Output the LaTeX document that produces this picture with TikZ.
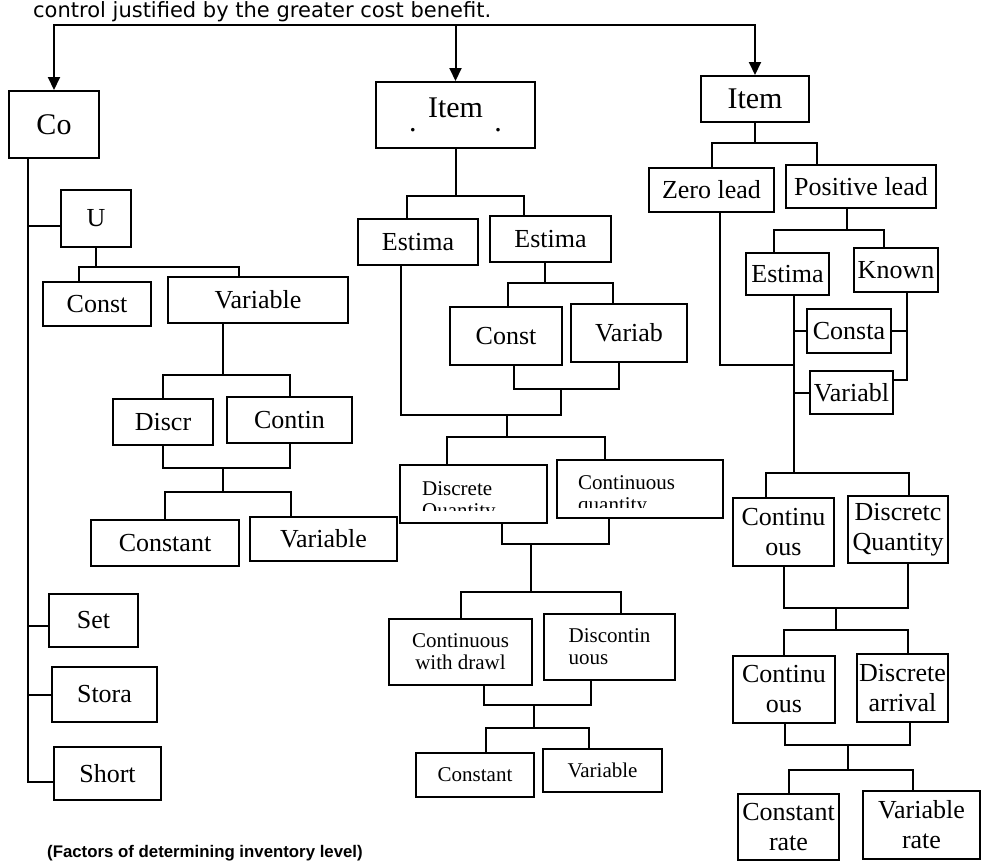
\documentclass[tikz,border=0pt]{standalone}
\usepackage{fontspec}
\setmainfont{Liberation Serif}
\newfontfamily\headfont{DejaVu Sans}
\newfontfamily\capfont{Liberation Sans}
\usetikzlibrary{arrows.meta}

\tikzset{
  box/.style={draw, line width=2pt, inner sep=0pt, align=center, font=\fontsize{26}{30}\selectfont},
  bigbox/.style={box, font=\fontsize{30}{34}\selectfont},
  smallbox/.style={box, font=\fontsize{21}{22}\selectfont},
  link/.style={line width=2pt},
  arr/.style={line width=2pt, -{Triangle[length=13pt,width=12pt]}}
}

\begin{document}
\begin{tikzpicture}[x=1pt, y=-1pt, line join=miter]
\useasboundingbox (0,0) rectangle (983,863);
\clip (0,0) rectangle (983,863);

% text above and below
\node (head)[anchor=base west, inner sep=0pt, font=\headfont\fontsize{21}{24}\selectfont] at (33,17) {control justified by the greater cost benefit.};
\node (caption)[anchor=base west, inner sep=0pt, font=\capfont\bfseries\fontsize{16.8}{19}\selectfont] at (47,857) {(Factors of determining inventory level)};

% left branch
\path (54,124.5) node(co)[bigbox, minimum width=90, minimum height=67]{Co}
  (96,218.5) node(u)[box, minimum width=70, minimum height=57]{U}
  (97,304) node(lcst)[box, minimum width=108, minimum height=44]{Const}
  (258,300) node(lvar)[box, minimum width=180, minimum height=46]{Variable}
  (163,422) node(discr)[box, minimum width=100, minimum height=46]{Discr}
  (289.5,420) node(contin)[box, minimum width=125, minimum height=46]{Contin}
  (165,543) node(lconstant)[box, minimum width=148, minimum height=46]{Constant}
  (323.5,539) node(lvariable)[box, minimum width=147, minimum height=44]{Variable}
  (93.5,620.5) node(set)[box, minimum width=89, minimum height=53]{Set}
  (104.5,694.5) node(stora)[box, minimum width=105, minimum height=55]{Stora}
  (107.5,773.5) node(short)[box, minimum width=107, minimum height=53]{Short};

% middle branch
\path (455.5,115) node(mitem)[bigbox, minimum width=159, minimum height=66]{Item\\[-20pt].\hspace{78pt}.}
  (418,242) node(mest1)[box, minimum width=120, minimum height=46]{Estima}
  (550.5,239) node(mest2)[box, minimum width=121, minimum height=46]{Estima}
  (506,336) node(mcst)[box, minimum width=112, minimum height=58]{Const}
  (629,333) node(mvar)[box, minimum width=116, minimum height=58]{Variab}
  (473.5,494) node(dq)[box, minimum width=147, minimum height=58]{}
  (640,489) node(cq)[box, minimum width=166, minimum height=58]{}
  (460.5,652) node(cwd)[smallbox, minimum width=143, minimum height=66]{Continuous\\with drawl}
  (609.5,647) node(disc)[smallbox, align=left, minimum width=131, minimum height=66]{Discontin\\uous}
  (475,775) node(mconst)[smallbox, minimum width=118, minimum height=44]{Constant}
  (602.5,770.5) node(mvarb)[smallbox, minimum width=119, minimum height=43]{Variable};

\begin{scope}
  \clip (402,467) rectangle (545,510);
  \node (dqtext)[anchor=north west, inner sep=0pt, align=left, font=\fontsize{21}{22}\selectfont] at (422,481) {Discrete\\Quantity};
\end{scope}
\begin{scope}
  \clip (559,462) rectangle (721,507);
  \node (cqtext)[anchor=north west, inner sep=0pt, align=left, font=\fontsize{21}{22}\selectfont] at (578,475) {Continuous\\quantity};
\end{scope}

% right branch
\path (755,99) node(ritem)[bigbox, minimum width=108, minimum height=46]{Item}
  (711.5,190) node(zero)[box, minimum width=125, minimum height=44]{Zero lead}
  (861,186.5) node(pos)[box, minimum width=150, minimum height=43]{Positive lead}
  (787.5,274) node(rest)[box, minimum width=83, minimum height=42]{Estima}
  (896,270) node(known)[box, minimum width=84, minimum height=44]{Known}
  (849,331) node(consta)[box, minimum width=84, minimum height=44]{Consta}
  (851.5,392.5) node(variabl)[box, minimum width=83, minimum height=43]{Variabl}
  (783.5,532) node(cont1)[box, minimum width=101, minimum height=68]{Continu\\ous}
  (898,529.5) node(disq)[box, minimum width=100, minimum height=67]{Discretc\\Quantity}
  (784,689.5) node(cont2)[box, minimum width=102, minimum height=67]{Continu\\ous}
  (902.5,688) node(disarr)[box, minimum width=91, minimum height=68]{Discrete\\arrival}
  (788.5,827) node(crate)[box, minimum width=101, minimum height=66]{Constant\\rate}
  (921.5,825) node(vrate)[box, minimum width=117, minimum height=68]{Variable\\rate};

% top arrows
\coordinate (bus) at (mitem.north |- 0,25);
\draw[arr] (bus) -| (co.north);
\draw[arr] (bus) -- (mitem.north);
\draw[arr] (bus) -| (ritem.north);

% left connectors
\draw[link] (28,0 |- co.south) |- ([yshift=-8.5pt]short.west);
\draw[link] ([yshift=-7.5pt]u.west) -- ++(-33,0);
\draw[link] ([yshift=-5.5pt]set.west) -- ++(-21,0);
\draw[link] (stora.west) -- ++(-24,0);
\coordinate (k1) at (u.south |- 0,267);
\draw[link] (u.south) -- (k1);
\draw[link] (79,0 |- lcst.north) |- (k1) -| (239,0 |- lvar.north);
\coordinate (k2) at (223,375);
\draw[link] (223,0 |- lvar.south) -- (k2);
\draw[link] (discr.north) |- (k2) -| (contin.north);
\coordinate (j3) at (223,468);
\coordinate (k3) at (223,492);
\draw[link] (discr.south) |- (j3) -| (contin.south);
\draw[link] (j3) -- (k3);
\draw[link] (lconstant.north) |- (k3) -| (291,0 |- lvariable.north);

% middle connectors
\coordinate (k4) at (mitem.south |- 0,196);
\draw[link] (mitem.south) -- (k4);
\draw[link] (407,0 |- mest1.north) |- (k4) -| (524,0 |- mest2.north);
\coordinate (k5) at (545,283);
\draw[link] (545,0 |- mest2.south) -- (k5);
\draw[link] (508,0 |- mcst.north) |- (k5) -| (613,0 |- mvar.north);
\coordinate (j6) at (561,389);
\draw[link] (514,0 |- mcst.south) |- (j6) -| (619,0 |- mvar.south);
\coordinate (j7) at (507,415);
\coordinate (k7) at (507,437);
\draw[link] (j6) |- (j7) -| (401,0 |- mest1.south);
\draw[link] (j7) -- (k7);
\draw[link] (447,0 |- dq.north) |- (k7) -| (605,0 |- cq.north);
\coordinate (j8) at (531,544);
\coordinate (k8) at (531,592);
\draw[link] (502,0 |- dq.south) |- (j8) -| (609,0 |- cq.south);
\draw[link] (j8) -- (k8);
\draw[link] (cwd.north) |- (k8) -| (621,0 |- disc.north);
\coordinate (j9) at (534,705);
\coordinate (k9) at (534,728);
\draw[link] (484,0 |- cwd.south) |- (j9) -| (591,0 |- disc.south);
\draw[link] (j9) -- (k9);
\draw[link] (486,0 |- mconst.north) |- (k9) -| (589,0 |- mvarb.north);

% right connectors
\coordinate (k10) at (ritem.south |- 0,143);
\draw[link] (ritem.south) -- (k10);
\draw[link] (zero.north) |- (k10) -| (817,0 |- pos.north);
\coordinate (j11) at (794,365);
\draw[link] (720,0 |- zero.south) |- (j11);
\coordinate (k12) at (847,230);
\draw[link] (847,0 |- pos.south) -- (k12);
\draw[link] (774,0 |- rest.north) |- (k12) -| (884,0 |- known.north);
\coordinate (k13) at (794,473);
\draw[link] (794,0 |- rest.south) -- (k13);
\draw[link] (794,0 |- consta.west) -- (consta.west);
\draw[link] (794,0 |- variabl.west) -- (variabl.west);
\draw[link] (907,0 |- known.south) |- ([yshift=13pt]variabl.east);
\draw[link] (907,0 |- consta.east) -- (consta.east);
\draw[link] (766,0 |- cont1.north) |- (k13) -| (909,0 |- disq.north);
\coordinate (j14) at (836,608);
\coordinate (k14) at (836,630);
\draw[link] (cont1.south) |- (j14) -| (908,0 |- disq.south);
\draw[link] (j14) -- (k14);
\draw[link] (cont2.north) |- (k14) -| (908,0 |- disarr.north);
\coordinate (j15) at (848,745);
\coordinate (k15) at (848,770);
\draw[link] (785,0 |- cont2.south) |- (j15) -| (910,0 |- disarr.south);
\draw[link] (j15) -- (k15);
\draw[link] (crate.north) |- (k15) -| (913,0 |- vrate.north);
\end{tikzpicture}
\end{document}
